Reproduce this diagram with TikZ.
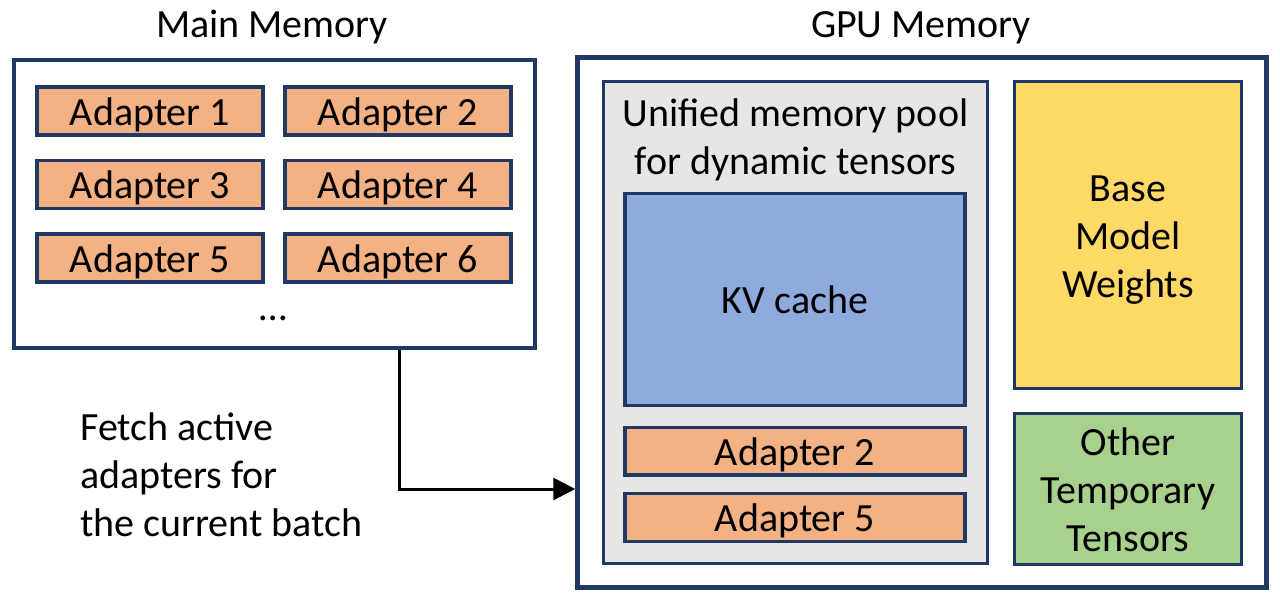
\documentclass[tikz,border=0pt]{standalone}
\usepackage{fontspec}
\setmainfont{Carlito}
\usetikzlibrary{arrows.meta}
\definecolor{navy}{HTML}{1F3864}
\definecolor{adfill}{HTML}{F4B183}
\definecolor{poolfill}{HTML}{E7E6E6}
\definecolor{kvfill}{HTML}{8FAADC}
\definecolor{basefill}{HTML}{FFD966}
\definecolor{otherfill}{HTML}{A9D18E}
\begin{document}
\begin{tikzpicture}[x=1pt,y=-1pt,
  txt/.style={font=\fontsize{40}{48}\selectfont, inner sep=0pt, align=center},
  outerbox/.style={draw=navy, line width=4.5pt, inner sep=0pt},
  box/.style={draw=navy, line width=3.3pt, txt},
  one/.style={text height=28.3pt, text depth=0pt},
  two/.style={text height=76.3pt, text depth=0pt},
  three/.style={text height=124.3pt, text depth=0pt},
  adapter/.style={box, one, fill=adfill},
  ladapter/.style={adapter, minimum width=226pt, minimum height=48pt},
  gadapter/.style={adapter, minimum width=340pt, minimum height=47.5pt},
  arr/.style={line width=3pt, -{Triangle[length=22pt,width=22pt]}}
]
\useasboundingbox (0,0) rectangle (1280,599);
% titles
\node[txt, anchor=base] (t1) at (272,38) {Main Memory};
\node[txt, anchor=base] (t2) at (921,38) {GPU Memory};
% main memory
\node[outerbox, minimum width=521pt, minimum height=288pt] (main) at (274.5,204) {};
\node[ladapter] (a1) at (150,111) {Adapter 1};
\node[ladapter] (a2) at (398,111) {Adapter 2};
\node[ladapter] (a3) at (150,184.5) {Adapter 3};
\node[ladapter] (a4) at (398,184.5) {Adapter 4};
\node[ladapter] (a5) at (150,258) {Adapter 5};
\node[ladapter] (a6) at (398,258) {Adapter 6};
\node[txt, anchor=base] (dots) at (273,320) {…};
% GPU memory
\node[outerbox, minimum width=689pt, minimum height=530pt] (gpu) at (922,322.5) {};
\node[box, fill=poolfill, minimum width=384pt, minimum height=482pt] (pool) at (795.3,322.2) {};
\node[txt, two] (pooltxt) at (795.5,136) {Unified memory pool\\for dynamic tensors};
\node[box, one, fill=kvfill, minimum width=340pt, minimum height=212pt] (kv) at (795,299.5) {KV cache};
\node[gadapter] (g2) at (795,451.2) {Adapter 2};
\node[gadapter] (g5) at (795,517.5) {Adapter 5};
\node[box, three, fill=basefill, minimum width=226.6pt, minimum height=306.6pt] (base) at (1128,235) {Base\\Model\\Weights};
\node[box, three, fill=otherfill, minimum width=226.6pt, minimum height=150.6pt] (other) at (1128,489) {Other\\Temporary\\Tensors};
% fetch
\node[txt, three, align=left, anchor=west] (fetch) at (80,474) {Fetch active\\adapters for\\the current batch};
\coordinate (bend) at (399,489);
\draw[arr] (bend |- main.south) -- (bend) -- (bend -| gpu.west);
\end{tikzpicture}
\end{document}
